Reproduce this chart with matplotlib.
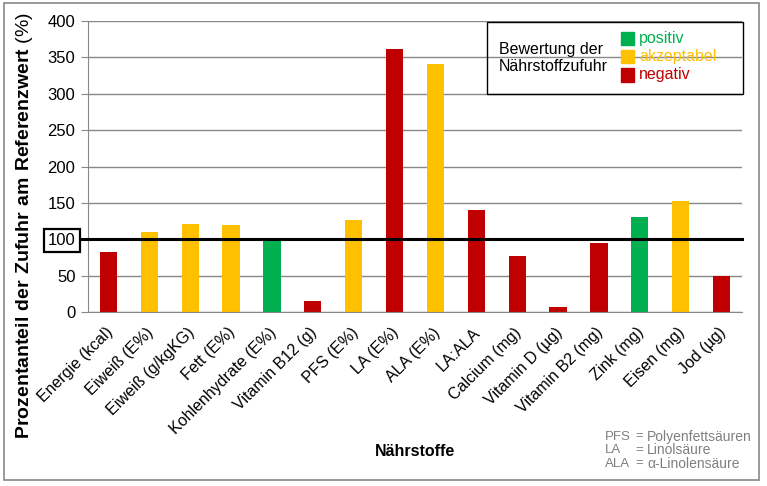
import matplotlib
matplotlib.use("Agg")
import matplotlib.pyplot as plt
from matplotlib.patches import Rectangle
from matplotlib.transforms import ScaledTranslation

plt.rcParams['font.family'] = ['Liberation Sans', 'DejaVu Sans']
plt.rcParams['mathtext.fontset'] = 'custom'
plt.rcParams['mathtext.rm'] = 'Liberation Sans'
plt.rcParams['mathtext.bf'] = 'Liberation Sans:bold'

# data
naehrstoffe = ["Energie (kcal)", "Eiweiß (E%)", "Eiweiß (g/kgKG)", "Fett (E%)",
               "Kohlenhydrate (E%)", "Vitamin B12 (g)", "PFS (E%)", "LA (E%)",
               "ALA (E%)", "LA:ALA", "Calcium (mg)", "Vitamin D (µg)",
               "Vitamin B2 (mg)", "Zink (mg)", "Eisen (mg)", "Jod (µg)"]
prozent = [83, 110, 121, 120, 100, 15, 126, 361, 341, 140, 77, 7, 95, 131, 152, 50]
bewertung = ["negativ", "akzeptabel", "akzeptabel", "akzeptabel", "positiv",
             "negativ", "akzeptabel", "negativ", "akzeptabel", "negativ",
             "negativ", "negativ", "negativ", "positiv", "akzeptabel", "negativ"]
farben = {"positiv": "#00B050", "akzeptabel": "#FFC000", "negativ": "#C00000"}
referenz = 100
yticks = list(range(0, 401, 50))

W, H = 767, 486
fig = plt.figure(figsize=(W / 100, H / 100), dpi=100)


def px(x, y):
    """pixel (from top-left) -> figure coords"""
    return x / W, 1 - y / H


ax = fig.add_axes([88 / W, 1 - 312 / H, 654 / W, 291 / H])

x = range(len(naehrstoffe))
ax.bar(x, prozent, width=0.42, color=[farben[b] for b in bewertung], zorder=2)
ax.axhline(referenz, xmin=-0.01, xmax=1, color="black", lw=2.2, zorder=3, clip_on=False)

ax.set_xlim(-0.5, len(naehrstoffe) - 0.5)
ax.set_ylim(0, 400)
ax.set_yticks(yticks)
ax.yaxis.grid(True, color="#888888", lw=1, zorder=0)
ax.set_axisbelow(True)
for s in ["top", "right"]:
    ax.spines[s].set_visible(False)
for s in ["left", "bottom"]:
    ax.spines[s].set_color("#888888")
ax.tick_params(axis="y", length=5, color="#888888", labelsize=12, pad=4)
ax.tick_params(axis="x", length=0, pad=13)
ax.set_xticks(list(x))
ax.set_xticklabels(naehrstoffe, rotation=45, ha="right", va="center",
                   rotation_mode="anchor", fontsize=11.5)
off = ScaledTranslation(2 / 100, 0, fig.dpi_scale_trans)
for lab in ax.get_xticklabels():
    lab.set_transform(lab.get_transform() + off)

for lab, v in zip(ax.get_yticklabels(), yticks):
    if v == referenz:
        lab.set_bbox(dict(boxstyle="square,pad=0.25", fc="white", ec="black", lw=1.6))

# axis titles
fig.text(*px(25, 225), r"$\mathbf{Prozentanteil\ der\ Zufuhr\ am\ Referenzwert}$ (%)",
         rotation=90, ha="center", va="center", fontsize=14)
fig.text(*px(415, 451), "Nährstoffe", ha="center", va="center", fontsize=11.5,
         fontweight="bold")

# legend box
lx0, ly0 = px(487, 94)
lx1, ly1 = px(743, 22)
fig.patches.append(Rectangle((lx0, ly0), lx1 - lx0, ly1 - ly0, transform=fig.transFigure,
                             fill=False, ec="black", lw=1))
fig.text(*px(499, 58), "Bewertung der\nNährstoffzufuhr", ha="left", va="center",
         fontsize=11.5, linespacing=1.2)
for i, key in enumerate(["positiv", "akzeptabel", "negativ"]):
    yc = 39 + i * 18
    sx, sy = px(621, yc + 6.5)
    fig.patches.append(Rectangle((sx, sy), 13 / W, 13 / H, transform=fig.transFigure,
                                 color=farben[key]))
    fig.text(*px(639, yc), key, ha="left", va="center", fontsize=11.5, color=farben[key])

# footnote
abk = ["PFS", "LA", "ALA"]
namen = ["Polyenfettsäuren", "Linolsäure", "α-Linolensäure"]
for i, (a, n) in enumerate(zip(abk, namen)):
    yc = 436.5 + i * 13.5
    fig.text(*px(605, yc), a, ha="left", va="center", fontsize=9.5, color="#7F7F7F")
    fig.text(*px(635, yc), "=", ha="left", va="center", fontsize=9.5, color="#7F7F7F")
    fig.text(*px(647, yc), n, ha="left", va="center", fontsize=10, color="#7F7F7F")

# outer frame
bx0, by0 = px(4, 480)
bx1, by1 = px(759, 3)
fig.patches.append(Rectangle((bx0, by0), bx1 - bx0, by1 - by0, transform=fig.transFigure,
                             fill=False, ec="#888888", lw=1.2))

fig.savefig("out.png", dpi=100)
